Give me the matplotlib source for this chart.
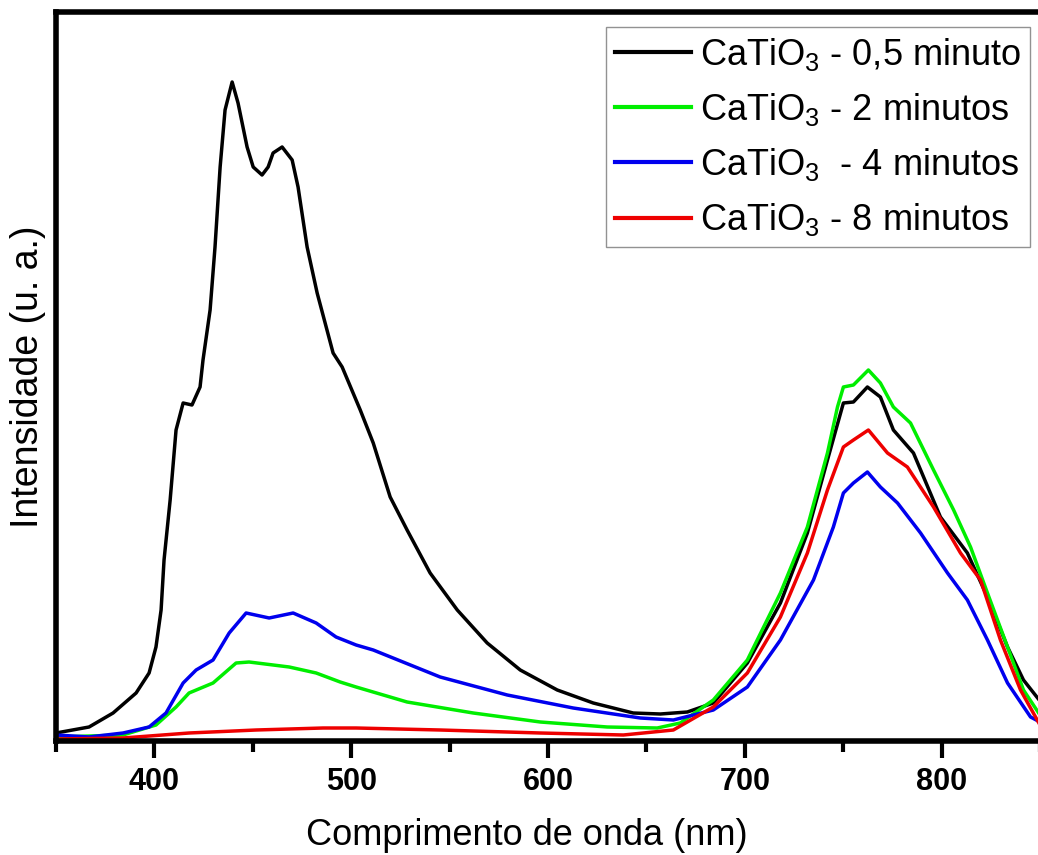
import matplotlib.pyplot as plt
from matplotlib.ticker import MultipleLocator

plt.rcParams['font.family'] = ['Liberation Sans', 'DejaVu Sans']
plt.rcParams['mathtext.default'] = 'regular'

# wavelength (nm) / intensity (a.u.)
x_05 = [350, 366.8, 379, 390.7, 397.3, 400.8, 403.4, 404.9, 408, 411, 414.6, 419.1,
        423.2, 424.7, 428.3, 430.8, 433.4, 435.9, 439.5, 442.5, 447.1, 450.2, 454.7,
        457.8, 460.3, 464.9, 470, 473, 477.6, 482.7, 490.8, 495.4, 504.6, 511.2,
        519.8, 528.4, 540.1, 553.9, 569.1, 585.9, 604.7, 623, 643.3, 657.1, 670.8,
        684, 701.3, 718.1, 731.8, 742, 750.1, 755.2, 762.3, 768.9, 775.5, 785.7,
        799.4, 813.1, 823.3, 833.5, 841.6, 850]
y_05 = [8, 14, 28, 48, 68, 94, 131, 181, 241, 311, 338, 336,
        354, 381, 431, 494, 574, 631, 659, 638, 594, 574, 566,
        574, 588, 594, 581, 554, 494, 448, 388, 374, 331, 298,
        244, 211, 168, 131, 98, 71, 51, 38, 28, 27, 29,
        38, 78, 138, 208, 281, 338, 339, 354, 344, 311, 288,
        224, 188, 144, 94, 61, 40]

x_2 = [350, 384, 400.8, 411, 417.6, 429.8, 441.5, 448.1, 468.5, 482.2, 494.4, 502.5,
       528.4, 562, 596.1, 630.1, 655.5, 667.2, 684, 701.3, 718.1, 731.8, 742, 747.1,
       750.1, 755.2, 762.8, 768.9, 775.5, 784.2, 795.9, 806.1, 814.7, 823.3, 833.5,
       841.6, 850]
y_2 = [4, 6, 16, 34, 48, 58, 78, 79, 74, 68, 59, 54,
       39, 28, 19, 14, 13, 18, 41, 81, 148, 214, 288, 334,
       354, 356, 371, 358, 334, 318, 271, 231, 194, 148, 94,
       51, 26]

x_4 = [350, 366.8, 384.1, 397.3, 405.9, 414.6, 421.2, 429.8, 438, 446.6, 458.3, 470.5,
       482.2, 492.3, 502.5, 511.2, 545.2, 579.3, 612.8, 646.9, 663.7, 684, 701.3,
       718.1, 734.9, 745, 750.1, 755.2, 762.3, 768.9, 777.6, 789.3, 803, 813.1,
       823.3, 833.5, 845.2, 850]
y_4 = [6, 4, 8, 14, 28, 58, 71, 81, 108, 128, 123, 128,
       118, 104, 96, 91, 64, 46, 33, 23, 21, 31, 54,
       101, 161, 214, 248, 258, 269, 254, 238, 208, 168, 141,
       101, 58, 24, 19]

x_8 = [350, 384, 417.6, 451.7, 485.7, 502.5, 545.2, 596.1, 638.3, 663.7, 684, 701.3,
       718.1, 731.8, 742, 750.1, 755.2, 762.8, 772.5, 782.6, 795.9, 809.6, 819.8,
       829.9, 840.1, 850]
y_8 = [2, 3, 8, 11, 13, 13, 11, 8, 6, 11, 34, 68,
       124, 188, 251, 294, 301, 311, 288, 274, 234, 188, 161,
       101, 51, 16]

labels = ['CaTiO$_3$ - 0,5 minuto', 'CaTiO$_3$ - 2 minutos',
          'CaTiO$_3$  - 4 minutos', 'CaTiO$_3$ - 8 minutos']
colors = ['black', '#00ee00', '#0000ee', '#ee0000']

fig = plt.figure(figsize=(10.38, 8.55), dpi=100)
ax = fig.add_axes([56 / 1038, 114 / 855, 984 / 1038, 729 / 855])

for xs, ys, c, lab in zip([x_05, x_2, x_4, x_8], [y_05, y_2, y_4, y_8], colors, labels):
    ax.plot(xs, ys, color=c, lw=2.5, label=lab)

ax.set_xlim(350, 850)
ax.set_ylim(0, 729)
ax.xaxis.set_major_locator(MultipleLocator(100))
ax.xaxis.set_minor_locator(MultipleLocator(50))
ax.set_yticks([])
for s in ax.spines.values():
    s.set_linewidth(4)
ax.tick_params(axis='x', which='major', direction='out', length=12, width=3,
               pad=7, labelsize=22)
ax.tick_params(axis='x', which='minor', direction='out', length=8, width=3)
for t in ax.get_xticklabels():
    t.set_fontweight('bold')

ax.set_xlabel('Comprimento de onda (nm)', fontsize=26)
ax.xaxis.set_label_coords(0.478, -0.106)
ax.set_ylabel('Intensidade (u. a.)', fontsize=27)
ax.yaxis.set_label_coords(-0.01, 0.5)

leg = ax.legend(loc='upper right', bbox_to_anchor=(1030 / 1038, 1 - 27 / 855),
                bbox_transform=fig.transFigure, fontsize=26, frameon=True,
                fancybox=False, borderaxespad=0, handlelength=2.1,
                handletextpad=0.25, labelspacing=0.5, borderpad=0.25)
leg.get_frame().set_edgecolor('#777777')
leg.get_frame().set_linewidth(1)
for line in leg.get_lines():
    line.set_linewidth(3)

fig.savefig('out.png', dpi=100)
